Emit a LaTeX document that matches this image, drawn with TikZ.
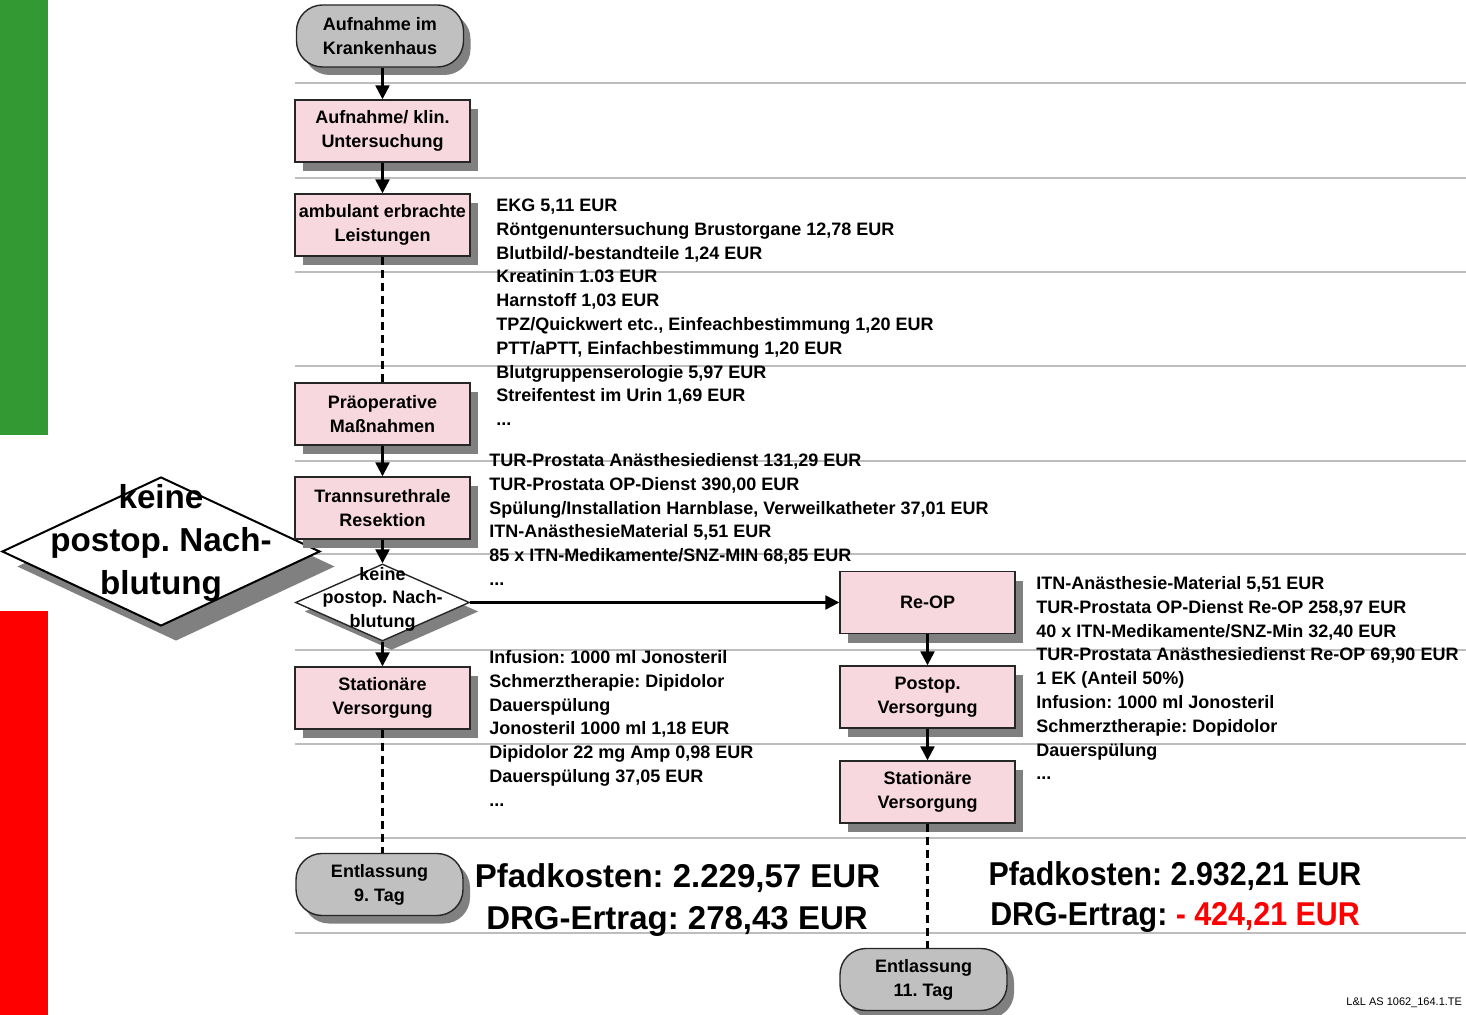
\documentclass[tikz,border=0pt]{standalone}
\usepackage{fontspec}
\setmainfont{Liberation Sans}
\usetikzlibrary{shapes.geometric,shadows,arrows.meta}
\definecolor{boxpink}{HTML}{F7D8DF}
\definecolor{ovalgray}{HTML}{C0C0C0}
\definecolor{shadowgray}{HTML}{808080}
\definecolor{barGreen}{HTML}{339933}
\definecolor{rowline}{HTML}{BDBDBD}
\newcommand{\listdots}{.\kern0pt.\kern0pt.}
\begin{document}
\frenchspacing
\begin{tikzpicture}[x=0.5pt,y=-0.5pt,
  every node/.style={font=\bfseries\fontsize{9}{12}\selectfont, text=black},
  procbox/.style={draw=black!85, line width=0.7pt, fill=boxpink,
    minimum width=87.5pt, minimum height=31pt, inner sep=0pt, align=center,
    drop shadow={shadow xshift=4pt, shadow yshift=-4.5pt, fill=shadowgray, opacity=1}},
  termoval/.style={draw=black!85, line width=0.7pt, fill=ovalgray, rounded corners=13pt,
    minimum width=83.5pt, minimum height=31pt, inner sep=0pt, align=center,
    drop shadow={shadow xshift=3.5pt, shadow yshift=-4pt, fill=shadowgray, opacity=1}},
  decision/.style={shape=diamond, draw=black!85, line width=0.7pt, fill=white,
    minimum width=87pt, minimum height=38.5pt, inner sep=0pt,
    drop shadow={shadow xshift=4.5pt, shadow yshift=-4.5pt, fill=shadowgray, opacity=1}},
  bigdecision/.style={shape=diamond, draw=black, line width=1pt, fill=white,
    minimum width=159pt, minimum height=74.5pt, inner sep=0pt,
    drop shadow={shadow xshift=7.5pt, shadow yshift=-7.5pt, fill=shadowgray, opacity=1}},
  dectext/.style={align=center, inner sep=0pt, font=\bfseries\fontsize{9}{11.75}\selectfont},
  bigdectext/.style={align=center, inner sep=0pt, font=\bfseries\fontsize{16.6}{21.5}\selectfont},
  flowarrow/.style={line width=1.2pt, -{Triangle[width=7pt,length=7pt]}},
  dashconn/.style={line width=1.5pt, dash pattern=on 4pt off 2.5pt},
  rowsep/.style={draw=rowline, line width=1pt},
  listtext/.style={anchor=base west, inner sep=0pt},
  bigtext/.style={font=\bfseries\fontsize{16.5}{20}\selectfont, anchor=base, inner sep=0pt},
]
\useasboundingbox (0,0) rectangle (1466,1015);

% side bars
\fill[barGreen] (0,0) rectangle (48,435);
\fill[red] (0,611) rectangle (48,1015);

% row separators
\foreach \yy in {83,178,272,366,461,554,650,744,838,933}
  \draw[rowsep] (295,\yy) -- (1466,\yy);

% big decision legend
\node[bigdecision] (bigdec) at (161,551.5) {};
\node[bigdectext] (bigdect) at (161,543) {keine\\postop. Nach-\\blutung};

% main path nodes
\node[termoval] (start) at (380,36) {Aufnahme im\\Krankenhaus};
\node[procbox] (aufn) at (382.5,131) {Aufnahme/ klin.\\Untersuchung};
\node[procbox] (amb) at (382.5,225) {ambulant erbrachte\\Leistungen};
\node[procbox] (praeop) at (382.5,414) {Präoperative\\Maßnahmen};
\node[procbox] (tur) at (382.5,508) {Trannsurethrale\\Resektion};
\node[decision] (dec) at (382.5,602.5) {};
\node[dectext] (dect) at (382.5,599) {keine\\postop. Nach-\\blutung};
\node[procbox] (stat1) at (382.5,698) {Stationäre\\Versorgung};
\node[procbox] (reop) at (927.5,602.5) {Re-OP};
\node[procbox] (postop) at (927.5,697) {Postop.\\Versorgung};
\node[procbox] (stat2) at (927.5,792) {Stationäre\\Versorgung};
\node[termoval] (end9) at (379.5,884.5) {Entlassung\\9. Tag};
\node[termoval] (end11) at (923.5,979.5) {Entlassung\\11. Tag};

% connectors
\draw[flowarrow] (start.south -| aufn.north) -- (aufn.north);
\draw[flowarrow] (aufn) -- (amb);
\draw[dashconn] (amb) -- (praeop);
\draw[flowarrow] (praeop) -- (tur);
\draw[flowarrow] (tur) -- (dec.north);
\draw[flowarrow] (dec.south) -- (stat1);
\draw[flowarrow] (dec.east) -- (reop);
\draw[flowarrow] (reop) -- (postop);
\draw[flowarrow] (postop) -- (stat2);
\draw[dashconn] (stat1.south) -- (stat1.south |- end9.north);
\draw[dashconn] (stat2.south) -- (stat2.south |- end11.north);

% cost lists
\foreach \t [count=\i] in {{EKG 5,11 EUR},{Röntgenuntersuchung Brustorgane 12,78 EUR},
  {Blutbild/-bestandteile 1,24 EUR},{Kreatinin 1.03 EUR},{Harnstoff 1,03 EUR},
  {TPZ/Quickwert etc., Einfeachbestimmung 1,20 EUR},{PTT/aPTT, Einfachbestimmung 1,20 EUR},
  {Blutgruppenserologie 5,97 EUR},{Streifentest im Urin 1,69 EUR},{\listdots}}
  \node[listtext] (la\i) at (496,{211.5+23.8*(\i-1)}) {\t};

\foreach \t [count=\i] in {{TUR-Prostata Anästhesiedienst 131,29 EUR},
  {TUR-Prostata OP-Dienst 390,00 EUR},
  {Spülung/Installation Harnblase, Verweilkatheter 37,01 EUR},
  {ITN-AnästhesieMaterial 5,51 EUR},{85 x ITN-Medikamente/SNZ-MIN 68,85 EUR},{\listdots}}
  \node[listtext] (lb\i) at (489,{466.5+23.8*(\i-1)}) {\t};

\foreach \t [count=\i] in {{Infusion: 1000 ml Jonosteril},{Schmerztherapie: Dipidolor},
  {Dauerspülung},{Jonosteril 1000 ml 1,18 EUR},{Dipidolor 22 mg Amp 0,98 EUR},
  {Dauerspülung 37,05 EUR},{\listdots}}
  \node[listtext] (lc\i) at (489,{663.5+23.8*(\i-1)}) {\t};

\foreach \t [count=\i] in {{ITN-Anästhesie-Material 5,51 EUR},
  {TUR-Prostata OP-Dienst Re-OP 258,97 EUR},{40 x ITN-Medikamente/SNZ-Min 32,40 EUR},
  {TUR-Prostata Anästhesiedienst Re-OP 69,90 EUR},{1 EK (Anteil 50\%)},
  {Infusion: 1000 ml Jonosteril},{Schmerztherapie: Dopidolor},{Dauerspülung},{\listdots}}
  \node[listtext] (ld\i) at (1036,{589.5+23.8*(\i-1)}) {\t};

% totals
\node[bigtext] (costl) at (677.5,887) {Pfadkosten: 2.229,57 EUR};
\node[bigtext] (drgl) at (677,929) {DRG-Ertrag: 278,43 EUR};
\node[bigtext] (costr) at (1175,885) {\scalebox{0.92}[1]{Pfadkosten: 2.932,21 EUR}};
\node[bigtext] (drgr) at (1175,925) {\scalebox{0.92}[1]{DRG-Ertrag: \textcolor{red}{- 424,21 EUR}}};

% footer
\node[anchor=base west, inner sep=0pt, font=\fontsize{5.5}{6}\selectfont] (footer) at (1346,1005) {L\&L AS 1062\_164.1.TE};
\end{tikzpicture}
\end{document}
